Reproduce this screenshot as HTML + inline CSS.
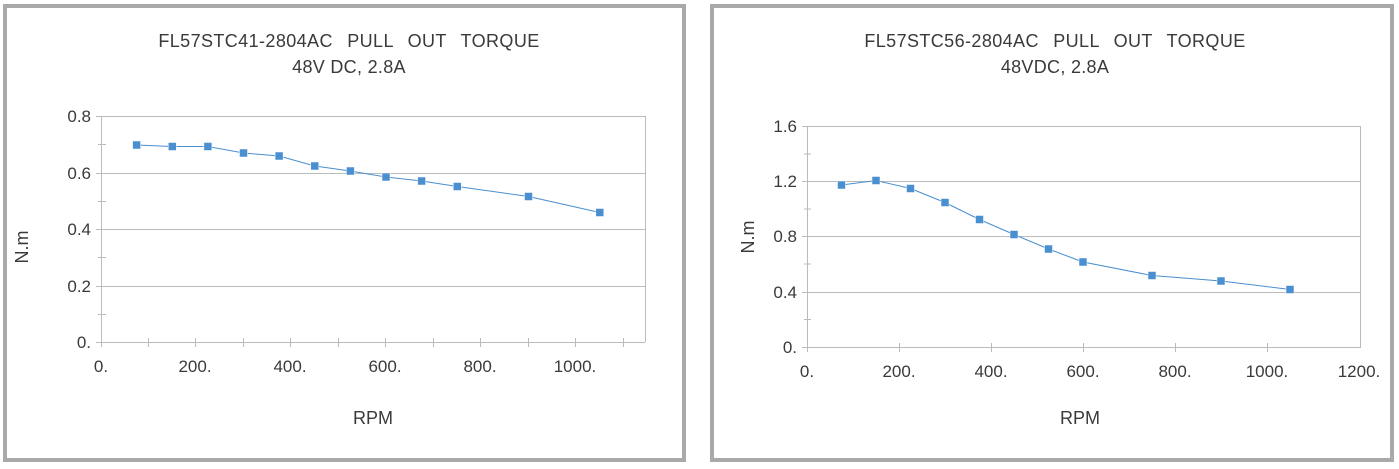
<!DOCTYPE html>
<html><head><meta charset="utf-8"><style>
html,body{margin:0;padding:0;background:#fff;}
svg{display:block;font-family:"Liberation Sans",sans-serif;}
</style></head><body>
<svg width="1399" height="469" viewBox="0 0 1399 469" xmlns="http://www.w3.org/2000/svg">
<rect x="5" y="6" width="679" height="454" fill="#fff" stroke="#a9a9ab" stroke-width="4"/>
<rect x="712" y="6" width="680" height="454" fill="#fff" stroke="#a9a9ab" stroke-width="4"/>

<!-- LEFT -->
<g fill="#3a3a3a" font-size="18" text-anchor="middle">
<text x="349" y="47" word-spacing="9" letter-spacing="0.4">FL57STC41-2804AC PULL OUT TORQUE</text>
<text x="349" y="73" letter-spacing="0.3">48V DC, 2.8A</text>
<text x="373" y="424">RPM</text>
<text transform="translate(28,247) rotate(-90)">N.m</text>
</g>
<g stroke="#bbb" stroke-width="1">
<line x1="96" y1="116.5" x2="645" y2="116.5"/>
<line x1="96" y1="173.5" x2="645" y2="173.5"/>
<line x1="96" y1="229.5" x2="645" y2="229.5"/>
<line x1="96" y1="286.5" x2="645" y2="286.5"/>
<line x1="645.5" y1="116" x2="645.5" y2="342"/>
<line x1="101.5" y1="116" x2="101.5" y2="347"/>
<line x1="96" y1="342.5" x2="645" y2="342.5"/>
<line x1="98" y1="144.5" x2="106" y2="144.5"/>
<line x1="98" y1="201.5" x2="106" y2="201.5"/>
<line x1="98" y1="257.5" x2="106" y2="257.5"/>
<line x1="98" y1="314.5" x2="106" y2="314.5"/>
<line x1="148.5" y1="338" x2="148.5" y2="347"/>
<line x1="195.5" y1="338" x2="195.5" y2="347"/>
<line x1="243.5" y1="338" x2="243.5" y2="347"/>
<line x1="290.5" y1="338" x2="290.5" y2="347"/>
<line x1="338.5" y1="338" x2="338.5" y2="347"/>
<line x1="385.5" y1="338" x2="385.5" y2="347"/>
<line x1="433.5" y1="338" x2="433.5" y2="347"/>
<line x1="480.5" y1="338" x2="480.5" y2="347"/>
<line x1="528.5" y1="338" x2="528.5" y2="347"/>
<line x1="575.5" y1="338" x2="575.5" y2="347"/>
<line x1="623.5" y1="338" x2="623.5" y2="347"/>
</g>
<g fill="#3a3a3a" font-size="17" text-anchor="end">
<text x="91" y="122">0.8</text><text x="91" y="179">0.6</text><text x="91" y="235">0.4</text><text x="91" y="292">0.2</text><text x="91" y="348">0.</text>
</g>
<g fill="#3a3a3a" font-size="17" text-anchor="middle">
<text x="101" y="372">0.</text><text x="195" y="372">200.</text><text x="290" y="372">400.</text><text x="385" y="372">600.</text><text x="480" y="372">800.</text><text x="575" y="372">1000.</text>
</g>
<polyline fill="none" stroke="#4a8fcf" stroke-width="1" points="136.6,145 172.3,146.5 207.9,146.5 243.5,153 279.1,156 314.8,166 350.4,171 386,177 421.6,181 457.3,186.5 528.5,196.5 599.8,212.5"/>
<g fill="#4a8fcf" stroke="#fff" stroke-width="0.5">
<rect x="132.6" y="141" width="8" height="8"/><rect x="168.3" y="142.5" width="8" height="8"/><rect x="203.9" y="142.5" width="8" height="8"/><rect x="239.5" y="149" width="8" height="8"/><rect x="275.1" y="152" width="8" height="8"/><rect x="310.8" y="162" width="8" height="8"/><rect x="346.4" y="167" width="8" height="8"/><rect x="382" y="173" width="8" height="8"/><rect x="417.6" y="177" width="8" height="8"/><rect x="453.3" y="182.5" width="8" height="8"/><rect x="524.5" y="192.5" width="8" height="8"/><rect x="595.8" y="208.5" width="8" height="8"/>
</g>

<!-- RIGHT -->
<g fill="#3a3a3a" font-size="18" text-anchor="middle">
<text x="1055" y="47" word-spacing="9" letter-spacing="0.4">FL57STC56-2804AC PULL OUT  TORQUE</text>
<text x="1055" y="73" letter-spacing="0.3">48VDC, 2.8A</text>
<text x="1080" y="424">RPM</text>
<text transform="translate(754,237) rotate(-90)">N.m</text>
</g>
<g stroke="#bbb" stroke-width="1">
<line x1="802" y1="126.5" x2="1361" y2="126.5"/>
<line x1="802" y1="181.5" x2="1361" y2="181.5"/>
<line x1="802" y1="236.5" x2="1361" y2="236.5"/>
<line x1="802" y1="292.5" x2="1361" y2="292.5"/>
<line x1="1360.5" y1="126" x2="1360.5" y2="347"/>
<line x1="807.5" y1="126" x2="807.5" y2="352"/>
<line x1="802" y1="347.5" x2="1361" y2="347.5"/>
<line x1="804" y1="154" x2="811" y2="154"/>
<line x1="804" y1="209" x2="811" y2="209"/>
<line x1="804" y1="264" x2="811" y2="264"/>
<line x1="804" y1="319.5" x2="811" y2="319.5"/>
<line x1="899.5" y1="343" x2="899.5" y2="352"/>
<line x1="991.5" y1="343" x2="991.5" y2="352"/>
<line x1="1083.5" y1="343" x2="1083.5" y2="352"/>
<line x1="1175.5" y1="343" x2="1175.5" y2="352"/>
<line x1="1267.5" y1="343" x2="1267.5" y2="352"/>
</g>
<g fill="#3a3a3a" font-size="17" text-anchor="end">
<text x="797" y="132">1.6</text><text x="797" y="187">1.2</text><text x="797" y="242">0.8</text><text x="797" y="298">0.4</text><text x="797" y="353">0.</text>
</g>
<g fill="#3a3a3a" font-size="17" text-anchor="middle">
<text x="807" y="377">0.</text><text x="899" y="377">200.</text><text x="991" y="377">400.</text><text x="1083" y="377">600.</text><text x="1175" y="377">800.</text><text x="1267" y="377">1000.</text><text x="1359" y="377">1200.</text>
</g>
<polyline fill="none" stroke="#4a8fcf" stroke-width="1" points="841.5,185 876,180.5 910.5,188.5 945,202.5 979.5,219.5 1014,234.5 1048.5,249 1083,262 1152,275.5 1221,281 1290,289.5"/>
<g fill="#4a8fcf" stroke="#fff" stroke-width="0.5">
<rect x="837.5" y="181" width="8" height="8"/><rect x="872" y="176.5" width="8" height="8"/><rect x="906.5" y="184.5" width="8" height="8"/><rect x="941" y="198.5" width="8" height="8"/><rect x="975.5" y="215.5" width="8" height="8"/><rect x="1010" y="230.5" width="8" height="8"/><rect x="1044.5" y="245" width="8" height="8"/><rect x="1079" y="258" width="8" height="8"/><rect x="1148" y="271.5" width="8" height="8"/><rect x="1217" y="277" width="8" height="8"/><rect x="1286" y="285.5" width="8" height="8"/>
</g>
</svg>
</body></html>
